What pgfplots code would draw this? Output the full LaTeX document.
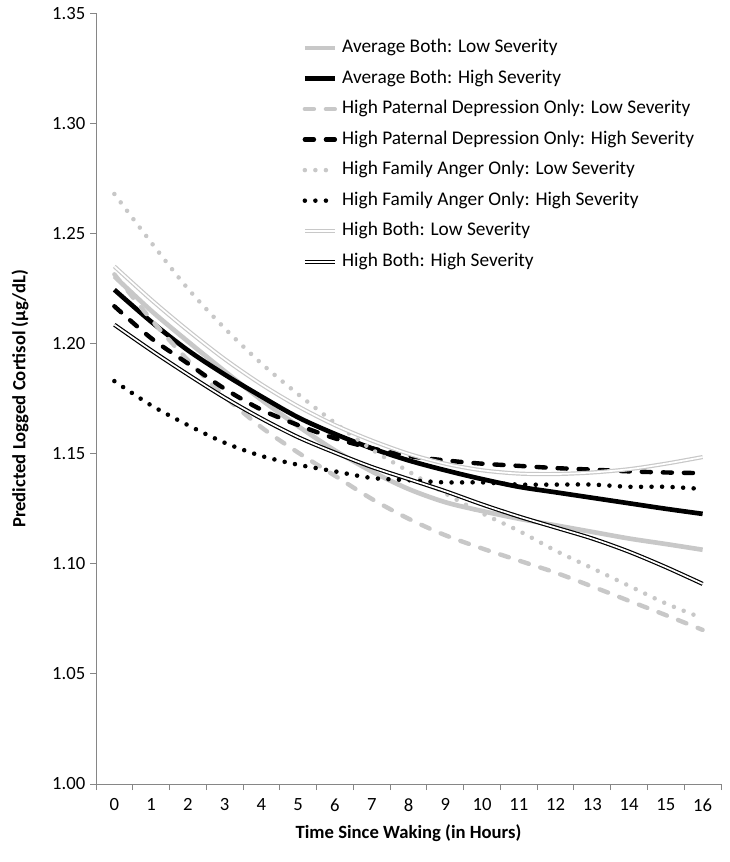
\documentclass[border=0pt]{standalone}
\usepackage{pgfplots}
\pgfplotsset{compat=1.18}
\usepackage{pgfplotstable}
\usepackage{fontspec}
\setmainfont{Carlito}

\definecolor{lgray}{RGB}{200,200,200}
\definecolor{axgray}{RGB}{134,134,134}

% t = hours since waking; one column per group
\pgfplotstableread{
t  avgL   avgH   pdL    pdH    faL    faH    hbL    hbH
0  1.2306 1.2245 1.2315 1.2170 1.2680 1.1830 1.2351 1.2086
1  1.2150 1.2100 1.2110 1.2025 1.2460 1.1720 1.2200 1.1970
2  1.2010 1.1970 1.1925 1.1910 1.2250 1.1630 1.2060 1.1860
3  1.1875 1.1860 1.1760 1.1795 1.2070 1.1550 1.1930 1.1755
4  1.1745 1.1760 1.1620 1.1700 1.1910 1.1490 1.1815 1.1660
5  1.1625 1.1665 1.1505 1.1630 1.1770 1.1450 1.1715 1.1575
6  1.1515 1.1590 1.1400 1.1570 1.1640 1.1420 1.1630 1.1505
7  1.1420 1.1525 1.1295 1.1525 1.1520 1.1390 1.1560 1.1440
8  1.1340 1.1470 1.1205 1.1490 1.1420 1.1380 1.1500 1.1385
9  1.1280 1.1425 1.1130 1.1470 1.1320 1.1370 1.1455 1.1330
10 1.1240 1.1385 1.1070 1.1455 1.1230 1.1370 1.1425 1.1270
11 1.1205 1.1350 1.1015 1.1445 1.1150 1.1360 1.1410 1.1215
12 1.1175 1.1325 1.0960 1.1435 1.1060 1.1360 1.1408 1.1165
13 1.1145 1.1300 1.0897 1.1428 1.0980 1.1360 1.1415 1.1115
14 1.1115 1.1275 1.0832 1.1420 1.0900 1.1350 1.1430 1.1055
15 1.1090 1.1250 1.0767 1.1415 1.0820 1.1350 1.1455 1.0985
16 1.1064 1.1227 1.0700 1.1412 1.0753 1.1340 1.1485 1.0909
}\data

\begin{document}
\begin{tikzpicture}
\path[use as bounding box] (-72pt,-58.5pt) rectangle (474.75pt,588pt);
\begin{axis}[
    at={(0,0)}, anchor=south west,
    scale only axis, width=468.75pt, height=577.9pt,
    xmin=-0.5, xmax=16.5, ymin=1, ymax=1.35,
    axis x line*=bottom, axis y line*=left,
    axis line style={axgray, line width=0.75pt, -},
    xtick={0,...,16},
    minor xtick={-0.5,0.5,...,16.5},
    major x tick style={draw=none},
    ytick={1,1.05,1.1,1.15,1.2,1.25,1.3,1.35},
    tick style={axgray, line width=0.75pt},
    tick align=outside,
    major tick length=4.5pt, minor tick length=4.5pt,
    /pgf/number format/assume math mode=true,
    yticklabel style={/pgf/number format/.cd, fixed, fixed zerofill, precision=2},
    xticklabel style={yshift=-3pt},
    tick label style={font=\fontsize{14}{16}\selectfont, black},
    xlabel={Time Since Waking (in Hours)},
    ylabel={Predicted Logged Cortisol (µg/dL)},
    label style={font=\bfseries\fontsize{14}{16}\selectfont},
    xlabel style={at={(axis description cs:0.5,-0.0640)}, anchor=center},
    ylabel style={at={(axis description cs:-0.1216,0.5)}, anchor=center},
    legend cell align=left,
    legend image code/.code={\draw[#1] (0pt,0pt) -- (22.5pt,0pt);},
    legend style={at={(axis description cs:0.33,0.9685)}, anchor=north west,
        draw=none, fill=none, inner sep=0pt,
        font=\fontsize{14.5}{16}\selectfont,
        nodes={inner sep=0pt, text height=11pt, text depth=4pt},
        row sep=7.9pt,
        /tikz/every odd column/.append style={column sep=3.75pt}},
]
\addplot[lgray, line width=3.5pt, smooth] table[x=t, y=avgL] {\data};
\addlegendentry{Average Both: Low Severity}
\addplot[black, line width=3.5pt, smooth] table[x=t, y=avgH] {\data};
\addlegendentry{Average Both: High Severity}
\addplot[lgray, line width=3.3pt, line cap=round, dash pattern=on 6.8pt off 9pt, smooth] table[x=t, y=pdL] {\data};
\addlegendentry{High Paternal Depression Only: Low Severity}
\addplot[black, line width=3.3pt, line cap=round, dash pattern=on 6.8pt off 9pt, smooth] table[x=t, y=pdH] {\data};
\addlegendentry{High Paternal Depression Only: High Severity}
\addplot[lgray, line width=3.4pt, line cap=round, dash pattern=on 0pt off 7.9pt, smooth] table[x=t, y=faL] {\data};
\addlegendentry{High Family Anger Only: Low Severity}
\addplot[black, line width=3.4pt, line cap=round, dash pattern=on 0pt off 7.9pt, smooth] table[x=t, y=faH] {\data};
\addlegendentry{High Family Anger Only: High Severity}
\addplot[lgray, line width=0.9pt, double=white, double distance=1.3pt, smooth] table[x=t, y=hbL] {\data};
\addlegendentry{High Both: Low Severity}
\addplot[black, line width=0.9pt, double=white, double distance=1.3pt, smooth] table[x=t, y=hbH] {\data};
\addlegendentry{High Both: High Severity}
\end{axis}
\end{tikzpicture}
\end{document}
